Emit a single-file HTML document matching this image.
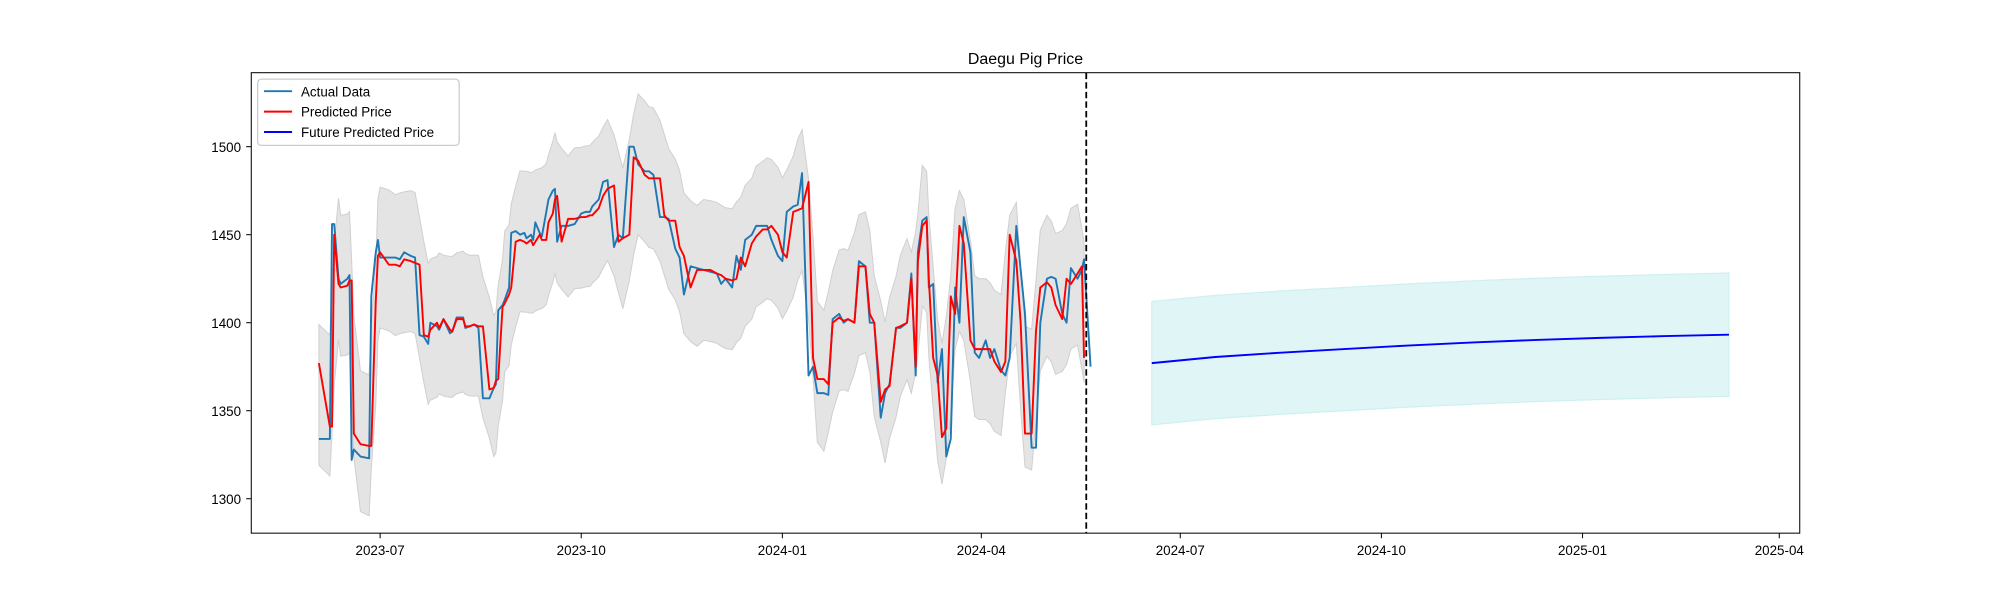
<!DOCTYPE html>
<html><head><meta charset="utf-8"><style>
body{margin:0;background:#fff;}
svg{display:block;font-family:"Liberation Sans","DejaVu Sans",sans-serif;}
</style></head><body>
<svg id="chart" width="2000" height="600" viewBox="0 0 1568 470.4" preserveAspectRatio="none" xmlns="http://www.w3.org/2000/svg">
<rect width="1568" height="470.4" fill="#fff"/>
<g id="band"></g>
<g id="fband"></g>
<g id="lines"></g>
<g id="axes"></g>
<text x="804" y="50" text-anchor="middle" font-size="12.5">Daegu Pig Price</text>
<g>
<rect x="202" y="62" width="158" height="52" rx="3" fill="#fff" stroke="#ccc"/>
<g><line x1="207" y1="71.5" x2="229" y2="71.5" stroke="#1f77b4" stroke-width="1.5"/><text x="236" y="75.5" font-size="10.5">Actual Data</text></g>
<g><line x1="207" y1="87.5" x2="229" y2="87.5" stroke="#ff0000" stroke-width="1.5"/><text x="236" y="91.5" font-size="10.5">Predicted Price</text></g>
<g><line x1="207" y1="103.5" x2="229" y2="103.5" stroke="#0000ff" stroke-width="1.5"/><text x="236" y="107.5" font-size="10.5">Future Predicted Price</text></g>
</g>
</svg>
<script>
const days=[-28,-23,-22,-21,-19,-18,-15,-14,-13,-12,-9,-5,-4,-2,-1,0,4,7,9,11,14,16,18,20,22,23,26,27,29,32,33,35,38,39,41,43,45,47,50,52,53,54,56,57,59,60,62,64,66,67,69,70,71,73,74,76,77,79,80,81,83,86,89,92,94,96,97,100,102,104,107,109,111,114,116,118,121,123,125,128,130,132,135,137,139,142,145,148,151,154,156,158,161,163,165,167,170,172,175,177,179,182,184,186,189,191,193,196,198,200,203,205,207,210,212,214,217,219,222,224,226,229,231,233,236,238,241,243,245,246,248,250,251,253,255,257,259,261,263,265,267,270,272,274,277,279,281,284,286,288,291,293,295,298,300,302,305,307,309,312,314,316,319,321,322,325];
const actual=[1334,1334,1456,1456,1425,1422,1425,1427,1322,1328,1324,1323,1415,1440,1447,1437,1437,1437,1436,1440,1438,1437,1393,1392,1388,1400,1398,1396,1402,1394,1395,1403,1403,1397,1398,1399,1397,1357,1357,1363,1365,1407,1410,1413,1420,1451,1452,1450,1451,1448,1450,1447,1457,1451,1449,1463,1470,1475,1476,1446,1455,1455,1456,1462,1463,1463,1466,1470,1480,1481,1443,1450,1448,1500,1500,1490,1486,1486,1484,1460,1460,1459,1442,1437,1416,1432,1431,1430,1429,1428,1422,1425,1420,1438,1430,1447,1450,1455,1455,1455,1447,1438,1435,1463,1466,1467,1485,1370,1375,1360,1360,1359,1402,1405,1400,1402,1400,1435,1432,1400,1400,1346,1360,1365,1397,1397,1400,1428,1370,1440,1458,1460,1420,1422,1366,1385,1324,1334,1420,1400,1460,1440,1383,1380,1390,1380,1385,1373,1370,1380,1455,1430,1405,1329,1329,1400,1425,1426,1425,1405,1400,1431,1425,1430,1436,1375];
const predicted=[1377,1341,1341,1450,1422,1420,1421,1424,1424,1337,1331,1330,1330,1412,1438,1440,1433,1433,1432,1436,1435,1434,1433,1393,1392,1396,1400,1397,1402,1396,1395,1402,1402,1398,1398,1399,1398,1398,1362,1363,1367,1368,1409,1411,1416,1420,1446,1447,1446,1445,1447,1444,1446,1450,1447,1447,1457,1462,1470,1472,1446,1459,1459,1460,1460,1461,1461,1465,1472,1476,1478,1446,1448,1450,1494,1492,1484,1482,1482,1482,1461,1458,1458,1443,1438,1420,1430,1430,1430,1428,1427,1425,1424,1425,1437,1432,1445,1449,1453,1453,1455,1450,1440,1437,1463,1464,1465,1480,1380,1368,1368,1365,1400,1403,1401,1402,1400,1432,1432,1405,1400,1355,1362,1364,1397,1398,1400,1425,1375,1435,1455,1458,1425,1380,1370,1335,1340,1415,1405,1455,1445,1390,1385,1385,1385,1385,1378,1372,1378,1450,1435,1400,1337,1337,1395,1420,1423,1420,1410,1402,1425,1422,1428,1432,1380];
const futureDays=[353,382,412,441,470,500,529,558,588,617];
const futureVals=[1377,1380.5,1383,1385,1387,1388.8,1390.2,1391.4,1392.4,1393.2];
const futureLower=[1342,1345.5,1348,1350,1352,1353.8,1355.2,1356.4,1357.4,1358.2];
const futureUpper=[1412,1415.5,1418,1420,1422,1423.8,1425.2,1426.4,1427.4,1428.2];
const xTickDays=[0,92,184,275,366,458,550,640];
const xTickLabels=['2023-07','2023-10','2024-01','2024-04','2024-07','2024-10','2025-01','2025-04'];
const yTicks=[1300,1350,1400,1450,1500];
const splitDay=323;

const NS='http://www.w3.org/2000/svg';
const X=d=>298+d*1.714;
const Y=v=>115+(1500-v)*1.38;
function mk(tag,attrs,parent){const e=document.createElementNS(NS,tag);for(const k in attrs)e.setAttribute(k,attrs[k]);parent.appendChild(e);return e;}
const band=document.getElementById('band'),fband=document.getElementById('fband'),lines=document.getElementById('lines'),axes=document.getElementById('axes');
const NA=Math.min(days.length,actual.length);
const NP=Math.min(days.length,predicted.length);
const up=[],lo=[];
for(let i=0;i<NP;i++){let s=0,n=0;for(let j=Math.max(0,i-1);j<=Math.min(NP-1,i+1);j++){s+=predicted[j];n++;}const m=s/n;up.push(m+40);lo.push(m-40);}
const bpts=[];
for(let i=0;i<NP;i++)bpts.push(X(days[i]).toFixed(1)+','+Y(up[i]).toFixed(1));
for(let i=NP-1;i>=0;i--)bpts.push(X(days[i]).toFixed(1)+','+Y(lo[i]).toFixed(1));
const bandPoly=mk('polygon',{points:bpts.join(' '),fill:'#d8d8d8','fill-opacity':'0.7',stroke:'#d0d0d0','stroke-width':'0.8'},band);


const fpts=[];
for(let i=0;i<futureDays.length;i++)fpts.push(X(futureDays[i]).toFixed(1)+','+Y(futureUpper[i]).toFixed(1));
for(let i=futureDays.length-1;i>=0;i--)fpts.push(X(futureDays[i]).toFixed(1)+','+Y(futureLower[i]).toFixed(1));
const fPoly=mk('polygon',{points:fpts.join(' '),fill:'#e0f6f6',stroke:'#d0f0f0'},fband);


const pl=(xs,vs,n)=>{const o=[];for(let i=0;i<n;i++)o.push(X(xs[i]).toFixed(1)+','+Y(vs[i]).toFixed(1));return o.join(' ');};
const la=mk('polyline',{points:pl(days,actual,NA),fill:'none',stroke:'#1f77b4','stroke-width':'1.5','stroke-linejoin':'round'},lines);


const lp=mk('polyline',{points:pl(days,predicted,NP),fill:'none',stroke:'#ff0000','stroke-width':'1.5','stroke-linejoin':'round'},lines);


const lf=mk('polyline',{points:pl(futureDays,futureVals,futureDays.length),fill:'none',stroke:'#0000ff','stroke-width':'1.5'},lines);


const vl=mk('line',{x1:X(splitDay),x2:X(splitDay),y1:57,y2:418,stroke:'#000','stroke-width':'1.4','stroke-dasharray':'5,2.5'},lines);


const fr=mk('rect',{x:197,y:57,width:1214,height:361,fill:'none',stroke:'#000','stroke-width':'0.8'},axes);


xTickDays.forEach((d,i)=>{const x=X(d);
const t=mk('line',{x1:x,x2:x,y1:418,y2:422,stroke:'#000','stroke-width':'0.8'},axes);


const tx=mk('text',{x:x,y:435,'text-anchor':'middle','font-size':'10.5'},axes);tx.textContent=xTickLabels[i];

});
yTicks.forEach(v=>{const y=Y(v);
const t=mk('line',{x1:193,x2:197,y1:y,y2:y,stroke:'#000','stroke-width':'0.8'},axes);


const tx=mk('text',{x:189,y:y+4,'text-anchor':'end','font-size':'10.5'},axes);tx.textContent=v;

});
</script>
</body></html>
